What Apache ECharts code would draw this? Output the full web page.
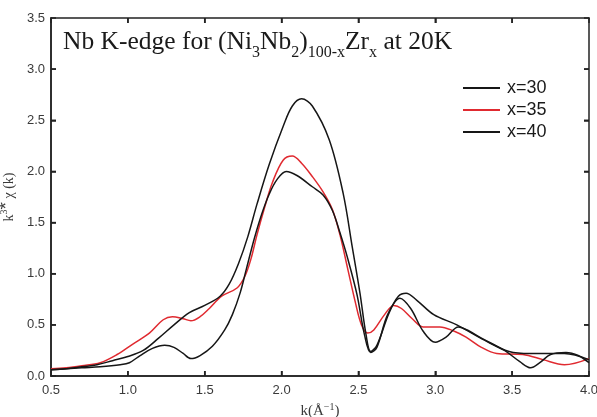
<!DOCTYPE html>
<html>
<head>
<meta charset="utf-8">
<script src="https://cdn.jsdelivr.net/npm/echarts@6/dist/echarts.min.js"></script>
<style>
  html, body { margin: 0; padding: 0; background: #fff; }
  #chart { width: 597px; height: 417px; }
</style>
</head>
<body>
<div id="chart"></div>
<script>
// k (1/Å) and k^3*chi(k) pairs for each Zr content
const seriesNames = ['x=30', 'x=35', 'x=40'];

const x30 = [
  [0.50,0.06],[0.60,0.07],[0.70,0.09],[0.80,0.11],[0.90,0.15],[1.00,0.19],[1.10,0.25],
  [1.20,0.37],[1.30,0.50],[1.40,0.62],[1.50,0.69],[1.60,0.78],[1.66,0.90],[1.72,1.10],
  [1.78,1.36],[1.84,1.68],[1.92,2.07],[2.01,2.44],[2.07,2.64],[2.13,2.71],
  [2.20,2.64],[2.31,2.31],[2.40,1.79],[2.46,1.26],[2.51,0.81],[2.55,0.40],[2.58,0.24],
  [2.62,0.30],[2.70,0.62],[2.76,0.78],[2.81,0.81],[2.88,0.74],[2.99,0.60],[3.14,0.50],
  [3.32,0.35],[3.48,0.24],[3.62,0.22],[3.84,0.22],[4.00,0.16]
];

const x35 = [
  [0.50,0.07],[0.60,0.08],[0.70,0.10],[0.82,0.13],[0.93,0.21],[1.03,0.31],[1.14,0.42],
  [1.23,0.55],[1.29,0.58],[1.36,0.56],[1.41,0.54],[1.47,0.58],[1.53,0.66],[1.61,0.78],
  [1.71,0.86],[1.76,0.97],[1.80,1.14],[1.84,1.38],[1.89,1.65],[1.94,1.89],[2.01,2.11],
  [2.07,2.15],[2.13,2.08],[2.20,1.95],[2.27,1.80],[2.33,1.63],[2.38,1.38],[2.43,1.05],
  [2.48,0.72],[2.52,0.50],[2.56,0.42],[2.60,0.45],[2.67,0.60],[2.73,0.69],[2.78,0.66],
  [2.85,0.56],[2.92,0.48],[3.03,0.48],[3.12,0.44],[3.20,0.38],[3.30,0.28],[3.40,0.22],
  [3.57,0.21],[3.70,0.16],[3.84,0.11],[4.00,0.17]
];

const x40 = [
  [0.50,0.06],[0.60,0.07],[0.70,0.08],[0.82,0.09],[0.95,0.11],[1.01,0.13],[1.08,0.20],
  [1.16,0.27],[1.24,0.30],[1.30,0.28],[1.36,0.22],[1.41,0.17],[1.47,0.20],[1.55,0.29],
  [1.63,0.45],[1.68,0.60],[1.73,0.81],[1.77,1.04],[1.82,1.33],[1.87,1.58],[1.92,1.78],
  [1.97,1.92],[2.03,2.00],[2.10,1.96],[2.20,1.85],[2.27,1.77],[2.33,1.62],[2.38,1.40],
  [2.43,1.15],[2.49,0.80],[2.54,0.40],[2.58,0.23],[2.62,0.28],[2.69,0.60],[2.77,0.76],
  [2.84,0.66],[2.92,0.44],[3.00,0.33],[3.07,0.38],[3.15,0.48],[3.22,0.44],[3.30,0.37],
  [3.45,0.25],[3.55,0.14],[3.62,0.08],[3.68,0.13],[3.75,0.21],[3.85,0.23],[3.93,0.20],
  [4.00,0.13]
];

// inner tick positions on the frame
const xTickValues = [1.0, 1.5, 2.0, 2.5, 3.0, 3.5];
const yTickValues = [0.5, 1.0, 1.5, 2.0, 2.5, 3.0];

const xRange = { min: 0.5, max: 4.0, interval: 0.5 };
const yRange = { min: 0, max: 3.5, interval: 0.5 };

const lineColors = ['#161616', '#e02a30', '#161616'];
const frameColor = '#222222';
const tickLen = 5;

const chart = echarts.init(document.getElementById('chart'), null, { renderer: 'canvas' });

const tickFont = () => ({ fontFamily: 'Liberation Sans, Arial, sans-serif', fontSize: 13, color: '#3a3a3a' });
const frameLine = () => ({ show: true, onZero: false, lineStyle: { color: frameColor, width: 1.5 } });
const innerTick = () => ({ show: true, inside: true, length: tickLen, lineStyle: { color: frameColor, width: 1.5 } });

const serif = 'Liberation Serif, Times New Roman, serif';

// Grid 0 holds the curves and the labelled axes; grids 1 and 2 cover the same
// rectangle and only draw the frame with inward ticks.
const rect = { left: 51, right: 8, top: 18, bottom: 41 };

function frameAxis(grid, pos, range) {
  return Object.assign({
    gridIndex: grid, type: 'value', position: pos,
    axisLine: frameLine(), axisTick: innerTick(),
    axisLabel: { show: false }, splitLine: { show: false }
  }, range);
}

// Inward ticks drawn through the data axes' scales as well.
function xTickItem(params, api) {
  const v = api.value(0);
  const b = api.coord([v, yRange.min]);
  const t = api.coord([v, yRange.max]);
  return {
    type: 'group',
    children: [
      { type: 'line', shape: { x1: b[0], y1: b[1], x2: b[0], y2: b[1] - tickLen }, style: { stroke: frameColor, lineWidth: 1.5 } },
      { type: 'line', shape: { x1: t[0], y1: t[1], x2: t[0], y2: t[1] + tickLen }, style: { stroke: frameColor, lineWidth: 1.5 } }
    ]
  };
}

function yTickItem(params, api) {
  const v = api.value(1);
  const l = api.coord([xRange.min, v]);
  const r = api.coord([xRange.max, v]);
  return {
    type: 'group',
    children: [
      { type: 'line', shape: { x1: l[0], y1: l[1], x2: l[0] + tickLen, y2: l[1] }, style: { stroke: frameColor, lineWidth: 1.5 } },
      { type: 'line', shape: { x1: r[0], y1: r[1], x2: r[0] - tickLen, y2: r[1] }, style: { stroke: frameColor, lineWidth: 1.5 } }
    ]
  };
}

const curveSeries = [x30, x35, x40].map((data, i) => ({
  name: seriesNames[i],
  type: 'line',
  xAxisIndex: 0,
  yAxisIndex: 0,
  data: data,
  smooth: 0.35,
  showSymbol: false,
  symbol: 'none',
  color: lineColors[i],
  lineStyle: { color: lineColors[i], width: 1.5 },
  z: i === 1 ? 2 : 3
}));

chart.setOption({
  animation: false,
  backgroundColor: '#ffffff',
  title: {
    left: 63,
    top: 36,
    padding: 0,
    text: '{a|Nb K-edge for (Ni}{s|3}{a|Nb}{s|2}{a|)}{s|100-x}{a|Zr}{s|x}{a| at 20K}',
    textStyle: {
      fontWeight: 'normal',
      rich: {
        a: { fontFamily: serif, fontWeight: 'normal', fontSize: 25.5, color: '#1a1a1a', lineHeight: 25, padding: [0, 0, 6, 0], verticalAlign: 'bottom' },
        s: { fontFamily: serif, fontWeight: 'normal', fontSize: 16, color: '#1a1a1a', lineHeight: 16, verticalAlign: 'bottom' }
      }
    }
  },
  legend: {
    orient: 'vertical',
    left: 458,
    top: 74,
    itemWidth: 37,
    itemHeight: 2,
    itemGap: 4,
    icon: 'rect',
    data: seriesNames,
    textStyle: { fontFamily: 'Liberation Sans, Arial, sans-serif', fontSize: 18, color: '#1a1a1a', lineHeight: 18, padding: [0, 0, 0, 2] }
  },
  grid: [
    Object.assign({ outerBoundsMode: 'none', containLabel: false }, rect),
    Object.assign({}, rect),
    Object.assign({}, rect)
  ],
  xAxis: [Object.assign({
    gridIndex: 0,
    type: 'value',
    position: 'bottom',
    axisLine: frameLine(),
    axisTick: { show: false },
    splitLine: { show: false },
    axisLabel: Object.assign({ margin: 8, formatter: v => v.toFixed(1) }, tickFont()),
    name: '{t|k(Å}{u|−1}{t|)}',
    nameLocation: 'middle',
    nameGap: 19,
    nameTextStyle: {
      rich: {
        t: { fontFamily: serif, fontSize: 15, color: '#3a3a3a', verticalAlign: 'bottom', lineHeight: 16 },
        u: { fontFamily: serif, fontSize: 10, color: '#3a3a3a', verticalAlign: 'bottom', lineHeight: 10, padding: [0, 0, 7, 0] }
      }
    }
  }, xRange), frameAxis(1, 'top', xRange), frameAxis(2, 'bottom', xRange)],
  yAxis: [Object.assign({
    gridIndex: 0,
    type: 'value',
    position: 'left',
    axisLine: frameLine(),
    axisTick: { show: false },
    splitLine: { show: false },
    axisLabel: Object.assign({ margin: 6, formatter: v => v.toFixed(1) }, tickFont()),
    name: '{t|k}{u|3}{m|*}{t| χ (k)}',
    nameLocation: 'middle',
    nameRotate: 90,
    nameGap: 28,
    nameTextStyle: {
      rich: {
        t: { fontFamily: serif, fontSize: 14, color: '#3a3a3a', verticalAlign: 'bottom', lineHeight: 14 },
        u: { fontFamily: serif, fontSize: 10, color: '#3a3a3a', verticalAlign: 'bottom', lineHeight: 10, padding: [0, 0, 7, 0] },
        m: { fontFamily: 'Liberation Sans, Arial, sans-serif', fontSize: 19, color: '#3a3a3a', verticalAlign: 'bottom', lineHeight: 15 }
      }
    }
  }, yRange), frameAxis(1, 'right', yRange), frameAxis(2, 'left', yRange)],
  series: curveSeries.concat([
    {
      type: 'custom',
      coordinateSystem: 'cartesian2d',
      xAxisIndex: 0, yAxisIndex: 0,
      silent: true, clip: false, z: 5,
      data: xTickValues.map(v => [v, yRange.min]),
      renderItem: xTickItem
    },
    {
      type: 'custom',
      coordinateSystem: 'cartesian2d',
      xAxisIndex: 0, yAxisIndex: 0,
      silent: true, clip: false, z: 5,
      data: yTickValues.map(v => [xRange.min, v]),
      renderItem: yTickItem
    }
  ])
});
</script>
</body>
</html>
